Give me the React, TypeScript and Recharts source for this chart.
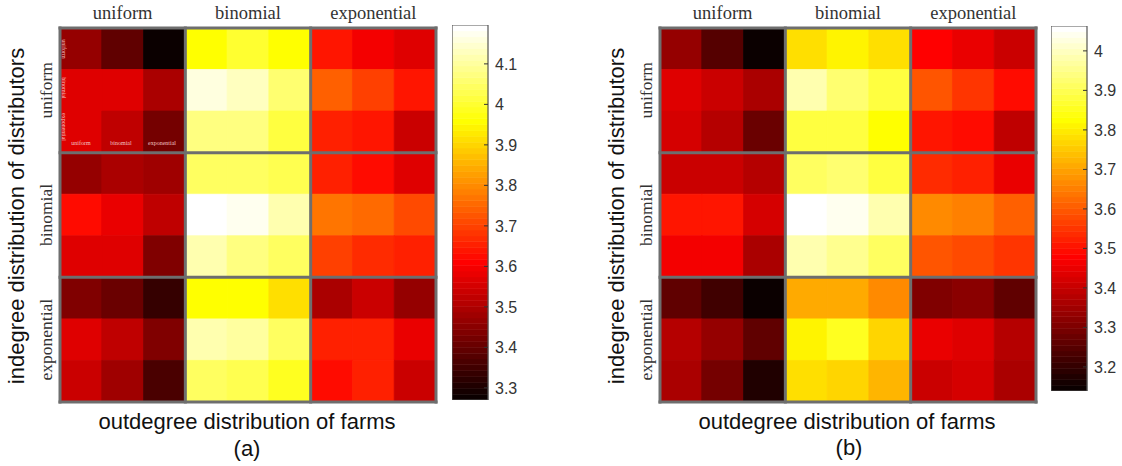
import React from "react";
import { ComposedChart, Bar, Cell, XAxis, YAxis, ReferenceLine } from "recharts";

const distributions = ["uniform", "binomial", "exponential"];
const subColumns = ["u1", "u2", "u3", "b1", "b2", "b3", "e1", "e2", "e3"];

// panel (a): rows grouped by indegree distribution of distributors
const aUniform = [
  [3.46, 3.39, 3.28, 3.96, 4.0, 3.96, 3.64, 3.6, 3.56],
  [3.56, 3.56, 3.49, 4.16, 4.13, 4.06, 3.74, 3.7, 3.64],
  [3.56, 3.52, 3.42, 4.07, 4.07, 4.02, 3.65, 3.64, 3.54],
];
const aBinomial = [
  [3.46, 3.5, 3.48, 4.04, 4.04, 4.03, 3.65, 3.63, 3.56],
  [3.62, 3.58, 3.53, 4.19, 4.18, 4.11, 3.77, 3.75, 3.71],
  [3.56, 3.56, 3.43, 4.12, 4.08, 4.05, 3.7, 3.67, 3.65],
];
const aExponential = [
  [3.43, 3.41, 3.33, 3.96, 3.96, 3.92, 3.5, 3.54, 3.46],
  [3.56, 3.53, 3.43, 4.11, 4.1, 4.04, 3.655, 3.65, 3.58],
  [3.54, 3.48, 3.37, 4.04, 4.03, 3.98, 3.62, 3.65, 3.54],
];

// panel (b)
const bUniform = [
  [3.33, 3.25, 3.15, 3.785, 3.805, 3.78, 3.485, 3.45, 3.41],
  [3.44, 3.41, 3.36, 3.977, 3.93, 3.886, 3.594, 3.546, 3.49],
  [3.42, 3.38, 3.275, 3.886, 3.88, 3.825, 3.506, 3.49, 3.397],
];
const bBinomial = [
  [3.4, 3.41, 3.37, 3.913, 3.92, 3.876, 3.54, 3.52, 3.45],
  [3.51, 3.5, 3.42, 4.063, 4.045, 3.986, 3.662, 3.645, 3.61],
  [3.465, 3.465, 3.36, 3.99, 3.96, 3.913, 3.594, 3.58, 3.55],
];
const bExponential = [
  [3.26, 3.22, 3.15, 3.71, 3.71, 3.67, 3.3, 3.32, 3.26],
  [3.375, 3.33, 3.26, 3.81, 3.85, 3.77, 3.45, 3.44, 3.38],
  [3.36, 3.29, 3.18, 3.785, 3.77, 3.73, 3.41, 3.42, 3.36],
];

const climA = [3.27, 4.196];
const climB = [3.139, 4.063];
const ticksA = [3.3, 3.4, 3.5, 3.6, 3.7, 3.8, 3.9, 4, 4.1];
const ticksB = [3.2, 3.3, 3.4, 3.5, 3.6, 3.7, 3.8, 3.9, 4];

const SANS = "'Liberation Sans', Arial, sans-serif";
const SERIF = "'Liberation Serif', 'Times New Roman', serif";
const LEVELS = 64;
const BORDER = "#6e6e6e";

// matlab "hot" colormap, 64 levels
const hotIndex = (i: number) => {
  const k = i + 1;
  const r = Math.min(1, k / 24);
  const g = Math.max(0, Math.min(1, (k - 24) / 24));
  const b = Math.max(0, Math.min(1, (k - 48) / 16));
  return `rgb(${Math.round(r * 255)},${Math.round(g * 255)},${Math.round(b * 255)})`;
};
const hot = (v: number, lo: number, hi: number) => {
  const i = Math.floor(((v - lo) / (hi - lo)) * LEVELS);
  return hotIndex(Math.max(0, Math.min(LEVELS - 1, i)));
};

const HeadTick = (props: any) => {
  const { x, y, payload } = props;
  return (
    <text x={x} y={y} textAnchor="middle" fontFamily={SERIF} fontSize={18.5} fill="#333">
      {distributions[Math.floor(payload.value / 3)]}
    </text>
  );
};

const SideTick = (props: any) => {
  const { x, y, payload } = props;
  return (
    <text
      x={x}
      y={y}
      transform={`rotate(-90, ${x}, ${y})`}
      textAnchor="middle"
      fontFamily={SERIF}
      fontSize={17.5}
      fill="#333"
    >
      {distributions[Math.floor(payload.value / 3)]}
    </text>
  );
};

const cellTicks = [0.5, 1.5, 2.5, 3.5, 4.5, 5.5, 6.5, 7.5, 8.5];
const evenTicks = [1.5, 3.5, 5.5, 7.5];
const groupTicks = [1.5, 4.5, 7.5];
const groupEdges = [0, 3, 6, 9];
const edgeData = groupEdges.map((edge) => ({ edge }));

const W = 450;
const H = 430;
const PLOT = { top: 28, left: 60, right: 14, bottom: 28 };

const numAxis = {
  type: "number" as const,
  scale: "linear" as const,
  domain: [0, 9],
  allowDataOverflow: true,
  interval: 0 as const,
};
const tickAxis = {
  ...numAxis,
  mirror: true,
  tickSize: 4,
  tickFormatter: () => "",
  axisLine: false,
  tickLine: { stroke: "#222" },
};

const Heatmap = ({ rows, clim, left }: { rows: number[][]; clim: number[]; left: number }) => {
  const data = subColumns.map((c) => {
    const o: Record<string, any> = { col: c };
    rows.forEach((_, k) => (o[`r${k}`] = 1));
    return o;
  });
  return (
    <>
      <div style={{ position: "absolute", left, top: 0 }}>
        <ComposedChart width={W} height={H} data={data} margin={PLOT} barCategoryGap={0} barGap={0}>
          <XAxis xAxisId="cat" dataKey="col" hide />
          <YAxis yAxisId="y" type="number" domain={[0, 9]} reversed hide />
          {rows.map((row, k) => (
            <Bar key={k} xAxisId="cat" yAxisId="y" dataKey={`r${k}`} stackId="s" isAnimationActive={false}>
              {row.map((v, j) => (
                <Cell
                  key={j}
                  fill={hot(v, clim[0], clim[1])}
                  stroke={hot(v, clim[0], clim[1])}
                  strokeWidth={0.8}
                />
              ))}
            </Bar>
          ))}
        </ComposedChart>
      </div>
      {/* group frames, ticks and group labels drawn over the cells */}
      <div style={{ position: "absolute", left, top: 0 }}>
        <ComposedChart
          width={W}
          height={H}
          data={edgeData}
          margin={{ top: 0, left: 30, right: PLOT.right, bottom: PLOT.bottom }}
        >
          <XAxis xAxisId="tt" dataKey="edge" orientation="top" height={0} ticks={evenTicks} {...tickAxis} />
          <XAxis xAxisId="bt" dataKey="edge" orientation="bottom" height={0} ticks={evenTicks} {...tickAxis} />
          <XAxis
            xAxisId="head"
            dataKey="edge"
            orientation="top"
            {...numAxis}
            ticks={groupTicks}
            height={PLOT.top}
            tickSize={0}
            tickMargin={9}
            tick={<HeadTick />}
            tickLine={false}
            axisLine={false}
          />
          <YAxis yAxisId="lt" width={0} reversed ticks={cellTicks} {...tickAxis} />
          <YAxis yAxisId="rt" orientation="right" width={0} reversed ticks={cellTicks} {...tickAxis} />
          <YAxis
            yAxisId="side"
            {...numAxis}
            reversed
            ticks={groupTicks}
            width={30}
            tickSize={0}
            tickMargin={8}
            tick={<SideTick />}
            tickLine={false}
            axisLine={false}
          />
          {groupEdges.map((e) => (
            <ReferenceLine
              key={`x${e}`}
              xAxisId="tt"
              yAxisId="lt"
              x={e}
              stroke={BORDER}
              strokeWidth={3}
              strokeLinecap="square"
              ifOverflow="visible"
            />
          ))}
          {groupEdges.map((e) => (
            <ReferenceLine
              key={`y${e}`}
              xAxisId="tt"
              yAxisId="lt"
              y={e}
              stroke={BORDER}
              strokeWidth={3}
              strokeLinecap="square"
              ifOverflow="visible"
            />
          ))}
        </ComposedChart>
      </div>
    </>
  );
};

const Colorbar = ({
  clim,
  ticks,
  left,
  top,
  height,
}: {
  clim: number[];
  ticks: number[];
  left: number;
  top: number;
  height: number;
}) => {
  const [lo, hi] = clim;
  const levels = Array.from({ length: LEVELS }, (_, i) => i);
  const step = (hi - lo) / LEVELS;
  const barData = [{ c: "cb", base: lo, ...Object.fromEntries(levels.map((i) => [`l${i}`, step])) }];
  const frameData = [{ c: "cb", range: [lo, hi] }];
  const margin = { top: 0, right: 46, bottom: 0, left: 0 };
  return (
    <>
      <div style={{ position: "absolute", left, top }}>
        <ComposedChart width={82} height={height} data={barData} margin={margin} barCategoryGap={0}>
          <XAxis xAxisId="x" dataKey="c" hide />
          <YAxis yAxisId="y" type="number" domain={[lo, hi]} allowDataOverflow hide />
          <Bar xAxisId="x" yAxisId="y" dataKey="base" stackId="c" fill="none" isAnimationActive={false} />
          {levels.map((i) => (
            <Bar
              key={i}
              xAxisId="x"
              yAxisId="y"
              dataKey={`l${i}`}
              stackId="c"
              fill={hotIndex(i)}
              stroke={hotIndex(i)}
              strokeWidth={0.6}
              isAnimationActive={false}
            />
          ))}
        </ComposedChart>
      </div>
      <div style={{ position: "absolute", left, top }}>
        <ComposedChart
          width={82}
          height={height}
          data={frameData}
          margin={{ ...margin, right: 0 }}
          barCategoryGap={0}
        >
          <XAxis xAxisId="x" dataKey="c" hide />
          <YAxis
            yAxisId="y"
            type="number"
            domain={[lo, hi]}
            orientation="right"
            width={46}
            ticks={ticks}
            interval={0}
            tickSize={-4}
            tickMargin={11}
            axisLine={false}
            tickLine={{ stroke: "#333" }}
            tick={{ fontSize: 16, fill: "#333", fontFamily: SANS }}
          />
          <Bar
            xAxisId="x"
            yAxisId="y"
            dataKey="range"
            fill="none"
            stroke="#555"
            strokeWidth={1.2}
            isAnimationActive={false}
          />
        </ComposedChart>
      </div>
    </>
  );
};

const textStyle = (x: number, y: number, extra: React.CSSProperties = {}): React.CSSProperties => ({
  position: "absolute",
  left: x,
  top: y,
  transform: "translate(-50%, -50%)",
  whiteSpace: "nowrap",
  lineHeight: 1,
  fontFamily: SANS,
  fontSize: 22,
  color: "#111",
  ...extra,
});

const tiny = (x: number, y: number, rot = 0): React.CSSProperties => ({
  position: "absolute",
  left: x,
  top: y,
  transform: `translate(-50%, -50%) rotate(${rot}deg)`,
  whiteSpace: "nowrap",
  lineHeight: 1,
  fontFamily: SERIF,
  fontSize: 6,
  color: "#f2c2c2",
});

export default function App() {
  const rowsA = [...aUniform, ...aBinomial, ...aExponential];
  const rowsB = [...bUniform, ...bBinomial, ...bExponential];
  return (
    <div
      style={{
        position: "absolute",
        left: 0,
        top: 0,
        width: 1122,
        height: 466,
        background: "#fff",
        overflow: "hidden",
      }}
    >
      <Heatmap rows={rowsA} clim={climA} left={0} />
      <Heatmap rows={rowsB} clim={climB} left={600} />
      <Colorbar clim={climA} ticks={ticksA} left={452} top={25} height={375} />
      <Colorbar clim={climB} ticks={ticksB} left={1051} top={26} height={365} />

      {/* small inset key in panel (a) */}
      <div style={tiny(81, 143)}>uniform</div>
      <div style={tiny(121, 143)}>binomial</div>
      <div style={tiny(162, 143)}>exponential</div>
      <div style={tiny(64, 49, 90)}>uniform</div>
      <div style={tiny(64, 88, 90)}>binomial</div>
      <div style={tiny(64, 127, 90)}>exponential</div>

      <div style={textStyle(17, 216, { transform: "translate(-50%, -50%) rotate(-90deg)" })}>
        indegree distribution of distributors
      </div>
      <div style={textStyle(617, 216, { transform: "translate(-50%, -50%) rotate(-90deg)" })}>
        indegree distribution of distributors
      </div>
      <div style={textStyle(247, 422)}>outdegree distribution of farms</div>
      <div style={textStyle(247, 449)}>(a)</div>
      <div style={textStyle(847, 422)}>outdegree distribution of farms</div>
      <div style={textStyle(849, 448)}>(b)</div>
    </div>
  );
}
